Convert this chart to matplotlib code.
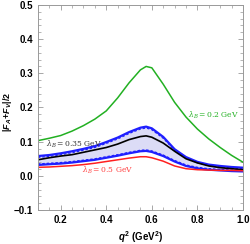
import numpy as np
import matplotlib.pyplot as plt
from matplotlib.ticker import MultipleLocator

plt.rcParams["font.family"] = ["Liberation Sans", "DejaVu Sans"]
plt.rcParams["mathtext.fontset"] = "custom"
plt.rcParams["mathtext.rm"] = "Liberation Sans:bold"
plt.rcParams["mathtext.it"] = "Liberation Sans:bold:italic"
plt.rcParams["mathtext.bf"] = "Liberation Sans:bold"

# q^2 grid (GeV^2) and curves
q2 = [0.10, 0.15, 0.20, 0.25, 0.30, 0.35, 0.40, 0.45, 0.50, 0.55,
      0.575, 0.60, 0.65, 0.70, 0.75, 0.80, 0.85, 0.90, 0.95, 1.00]

lam_02 = [0.103, 0.110, 0.118, 0.131, 0.147, 0.166, 0.190, 0.228, 0.272, 0.310,
          0.320, 0.316, 0.268, 0.215, 0.172, 0.137, 0.108, 0.083, 0.060, 0.040]
lam_035 = [0.047, 0.053, 0.058, 0.062, 0.069, 0.076, 0.083, 0.093, 0.106, 0.115,
           0.117, 0.113, 0.096, 0.072, 0.050, 0.038, 0.029, 0.024, 0.021, 0.018]
band_hi = [0.058, 0.061, 0.066, 0.072, 0.079, 0.087, 0.099, 0.112, 0.128, 0.141,
           0.144, 0.139, 0.114, 0.078, 0.055, 0.041, 0.033, 0.029, 0.026, 0.024]
band_hi_dash = [0.054, 0.057, 0.062, 0.068, 0.075, 0.083, 0.095, 0.108, 0.124, 0.137,
                0.140, 0.135, 0.110, 0.075, 0.052, 0.038, 0.030, 0.026, 0.023, 0.021]
band_lo = [0.032, 0.034, 0.036, 0.039, 0.043, 0.047, 0.053, 0.059, 0.066, 0.072,
           0.073, 0.070, 0.058, 0.042, 0.029, 0.022, 0.018, 0.016, 0.014, 0.013]
band_lo_dash = [0.035, 0.037, 0.039, 0.042, 0.046, 0.050, 0.056, 0.062, 0.069, 0.075,
                0.076, 0.073, 0.061, 0.045, 0.032, 0.025, 0.021, 0.019, 0.017, 0.016]
lam_05 = [0.025, 0.026, 0.028, 0.030, 0.033, 0.037, 0.042, 0.047, 0.052, 0.056,
          0.056, 0.053, 0.043, 0.029, 0.021, 0.018, 0.017, 0.016, 0.016, 0.015]

fig = plt.figure(figsize=(2.51, 2.44), dpi=100)
ax = fig.add_axes([0.151, 0.139, 0.817, 0.841])

ax.fill_between(q2, band_lo, band_hi, color="#dcdcf6", lw=0)
ax.plot(q2, band_hi, color="#1f1fff", lw=1.6)
ax.plot(q2, band_lo, color="#1f1fff", lw=1.6)
ax.plot(q2, band_hi_dash, color="#1f1fff", lw=0.9, ls=(0, (2, 1.5)))
ax.plot(q2, band_lo_dash, color="#1f1fff", lw=0.9, ls=(0, (2, 1.5)))
ax.plot(q2, lam_035, color="black", lw=1.2)
ax.plot(q2, lam_05, color="#ff2020", lw=1.1)
ax.plot(q2, lam_02, color="#22b022", lw=1.1)

ann = dict(fontsize=5.5, family="DejaVu Serif", math_fontfamily="dejavuserif")
ax.text(0.135, 0.086, r"$\lambda_B = 0.35$ GeV", color="#333333", **ann)
ax.text(0.295, 0.009, r"$\lambda_B = 0.5$ GeV", color="#ff4040", **ann)
ax.text(0.76, 0.170, r"$\lambda_B = 0.2$ GeV", color="#22b022", **ann)

ax.set_xlim(0.1, 1.0)
ax.set_ylim(-0.1, 0.5)
ax.xaxis.set_major_locator(MultipleLocator(0.2))
ax.xaxis.set_minor_locator(MultipleLocator(0.05))
ax.yaxis.set_minor_locator(MultipleLocator(0.02))
ax.set_yticks([-0.1, 0.0, 0.1, 0.2, 0.3, 0.4, 0.5])
ax.set_yticklabels(["\u22120.1", "0.0", "0.1", "0.2", "0.3", "0.4", "0.5"])
ax.tick_params(which="both", direction="in", top=True, right=True,
               colors="#999999", labelcolor="black", labelsize=7)
ax.tick_params(which="major", length=3.5, width=0.6)
ax.tick_params(which="minor", length=2, width=0.5)
for lab in ax.get_xticklabels() + ax.get_yticklabels():
    lab.set_fontweight("bold")
for s in ax.spines.values():
    s.set_color("#999999")
    s.set_linewidth(0.7)

ax.set_xlabel(r"$q^2$ (GeV$^2$)", fontsize=7, fontweight="bold", labelpad=3)
ax.set_ylabel(r"$|F_A\!+\!F_V|/2$", fontsize=6.5)
ax.yaxis.set_label_coords(-0.118, 0.478)

fig.savefig("out.png", dpi=100)
